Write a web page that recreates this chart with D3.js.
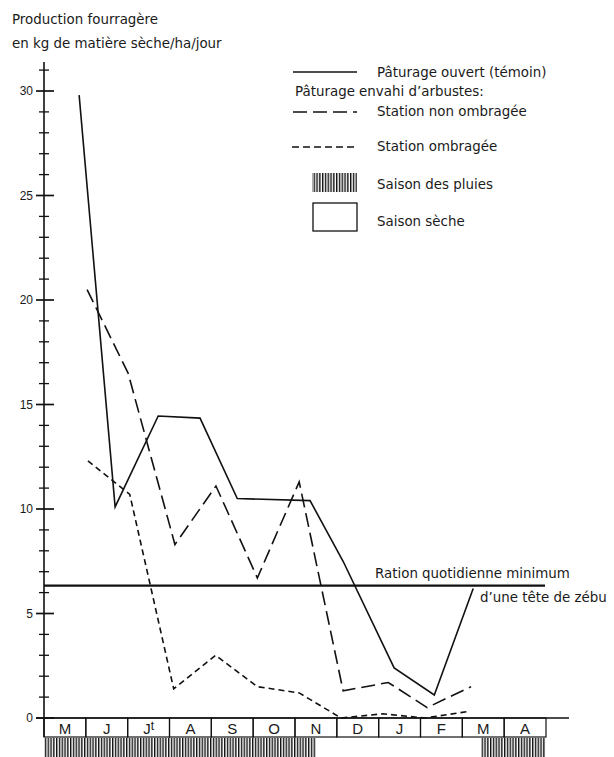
<!DOCTYPE html>
<html>
<head>
<meta charset="utf-8">
<script src="https://cdn.jsdelivr.net/npm/d3@7"></script>
<style>
  body { margin: 0; background: #fff; }
  svg { display: block; font-family: "DejaVu Sans", sans-serif; }
  text { fill: #1a1a1a; }
  .num { font-family: "Liberation Sans", Arial, sans-serif; }
</style>
</head>
<body>
<svg id="chart"></svg>
<script>
// ====== données ====== //
const months = ["M", "J", "Jt", "A", "S", "O", "N", "D", "J", "F", "M", "A"];
// saison des pluies (en mois depuis début mai)
const rainySeasons = [[0, 6.5], [10.45, 12]];

// Pâturage ouvert (témoin)
const openX = [0.84, 1.70, 2.73, 3.73, 4.62, 6.36, 7.15, 8.37, 9.33, 10.26];
const openY = [29.8, 10.1, 14.45, 14.35, 10.5, 10.4, 7.5, 2.4, 1.1, 6.2];

// Station non ombragée
const sunX = [1.03, 2.01, 3.13, 4.11, 5.10, 6.10, 7.15, 8.23, 9.16, 10.21];
const sunY = [20.5, 16.5, 8.3, 11.1, 6.7, 11.3, 1.3, 1.7, 0.5, 1.5];

// Station ombragée
const shadeX = [1.05, 2.05, 3.1, 4.1, 5.1, 6.1, 7.1, 8.1, 9.1, 10.1];
const shadeY = [12.3, 10.7, 1.4, 3.0, 1.5, 1.2, 0.0, 0.2, 0.0, 0.3];

const ration = 6.33;
const yTicks = d3.range(0, 32);

// ====== dimensions ====== //
const width = 614, height = 757;
const svg = d3.select("#chart").attr("width", width).attr("height", height);

const x = d3.scaleLinear().domain([0, 12]).range([44, 546]);
const y = d3.scaleLinear().domain([0, 30]).range([718, 91]);
const fs = "13.4px";

// hachures
const defs = svg.append("defs");
const pat = defs.append("pattern")
  .attr("id", "hatch").attr("patternUnits", "userSpaceOnUse")
  .attr("width", 2.8).attr("height", 10);
pat.append("rect").attr("width", 1.4).attr("height", 10).attr("fill", "#111");

// titre axe y
svg.append("text").attr("x", 12).attr("y", 24).style("font-size", fs)
  .text("Production fourragère");
svg.append("text").attr("x", 12).attr("y", 48).style("font-size", fs)
  .text("en kg de matière sèche/ha/jour");

// axe vertical
svg.append("line").attr("x1", x(0)).attr("x2", x(0))
  .attr("y1", 62).attr("y2", 737).attr("stroke", "#111").attr("stroke-width", 1.6);

// graduations
svg.selectAll(".tick").data(yTicks).enter().append("line")
  .attr("x1", d => d % 5 === 0 ? 36 : 39)
  .attr("x2", d => d % 5 === 0 ? 54 : 49)
  .attr("y1", d => y(d)).attr("y2", d => y(d))
  .attr("stroke", "#111").attr("stroke-width", d => d % 5 === 0 ? 1.7 : 1.3);

svg.selectAll(".ylab").data(yTicks.filter(d => d % 5 === 0)).enter().append("text")
  .attr("class", "num")
  .attr("x", 33).attr("y", d => y(d) + 4).attr("text-anchor", "end")
  .style("font-size", "12px").text(d => d);

// axe horizontal
svg.append("line").attr("x1", 36).attr("x2", 569)
  .attr("y1", y(0)).attr("y2", y(0)).attr("stroke", "#111").attr("stroke-width", 1.6);

// cases des mois
const boxes = svg.selectAll(".month").data(months).enter().append("g");
boxes.append("rect")
  .attr("x", (d, i) => x(i)).attr("y", y(0))
  .attr("width", x(1) - x(0)).attr("height", 19)
  .attr("fill", "none").attr("stroke", "#111").attr("stroke-width", 1.2);
boxes.append("text")
  .attr("class", "num")
  .attr("x", (d, i) => x(i + 0.5)).attr("y", y(0) + 16)
  .attr("text-anchor", "middle").style("font-size", "15px")
  .each(function(d) {
    const t = d3.select(this);
    if (d === "Jt") {
      t.append("tspan").text("J");
      t.append("tspan").attr("dy", -4).style("font-size", "12px").text("t");
    } else {
      t.text(d);
    }
  });

// saison des pluies
svg.selectAll(".rain").data(rainySeasons).enter().append("rect")
  .attr("x", d => x(d[0])).attr("y", 738)
  .attr("width", d => x(d[1]) - x(d[0])).attr("height", 19)
  .attr("fill", "url(#hatch)");

// ration quotidienne
svg.append("line").attr("x1", x(0)).attr("x2", 545)
  .attr("y1", y(ration)).attr("y2", y(ration))
  .attr("stroke", "#111").attr("stroke-width", 2.2);
svg.append("text").attr("x", 375).attr("y", 578).style("font-size", fs)
  .text("Ration quotidienne minimum");
svg.append("text").attr("x", 480).attr("y", 602).style("font-size", fs)
  .text("d’une tête de zébu");

// courbes
const line = d3.line().x(d => x(d[0])).y(d => y(d[1]));
const series = [
  { xs: openX, ys: openY, dash: null },
  { xs: sunX, ys: sunY, dash: "14,6" },
  { xs: shadeX, ys: shadeY, dash: "6,4" }
];
series.forEach(s => {
  svg.append("path")
    .datum(s.xs.map((v, i) => [v, s.ys[i]]))
    .attr("d", line)
    .attr("fill", "none").attr("stroke", "#111").attr("stroke-width", 1.6)
    .attr("stroke-dasharray", s.dash);
});

// légende
const lg = svg.append("g");
lg.append("line").attr("x1", 293).attr("x2", 357).attr("y1", 72).attr("y2", 72)
  .attr("stroke", "#111").attr("stroke-width", 1.4);
lg.append("text").attr("x", 377).attr("y", 77).style("font-size", fs)
  .text("Pâturage ouvert (témoin)");
lg.append("text").attr("x", 295).attr("y", 96).style("font-size", fs)
  .text("Pâturage envahi d’arbustes:");
lg.append("line").attr("x1", 293).attr("x2", 357).attr("y1", 112).attr("y2", 112)
  .attr("stroke", "#111").attr("stroke-width", 1.4).attr("stroke-dasharray", "14,6");
lg.append("text").attr("x", 377).attr("y", 116).style("font-size", fs)
  .text("Station non ombragée");
lg.append("line").attr("x1", 292).attr("x2", 357).attr("y1", 147).attr("y2", 147)
  .attr("stroke", "#111").attr("stroke-width", 1.4).attr("stroke-dasharray", "7,4");
lg.append("text").attr("x", 377).attr("y", 151).style("font-size", fs)
  .text("Station ombragée");
lg.append("rect").attr("x", 312).attr("y", 173).attr("width", 45).attr("height", 19)
  .attr("fill", "url(#hatch)");
lg.append("text").attr("x", 377).attr("y", 189).style("font-size", fs)
  .text("Saison des pluies");
lg.append("rect").attr("x", 313).attr("y", 203).attr("width", 44).attr("height", 28)
  .attr("fill", "none").attr("stroke", "#111").attr("stroke-width", 1.3);
lg.append("text").attr("x", 377).attr("y", 226).style("font-size", fs)
  .text("Saison sèche");
</script>
</body>
</html>
